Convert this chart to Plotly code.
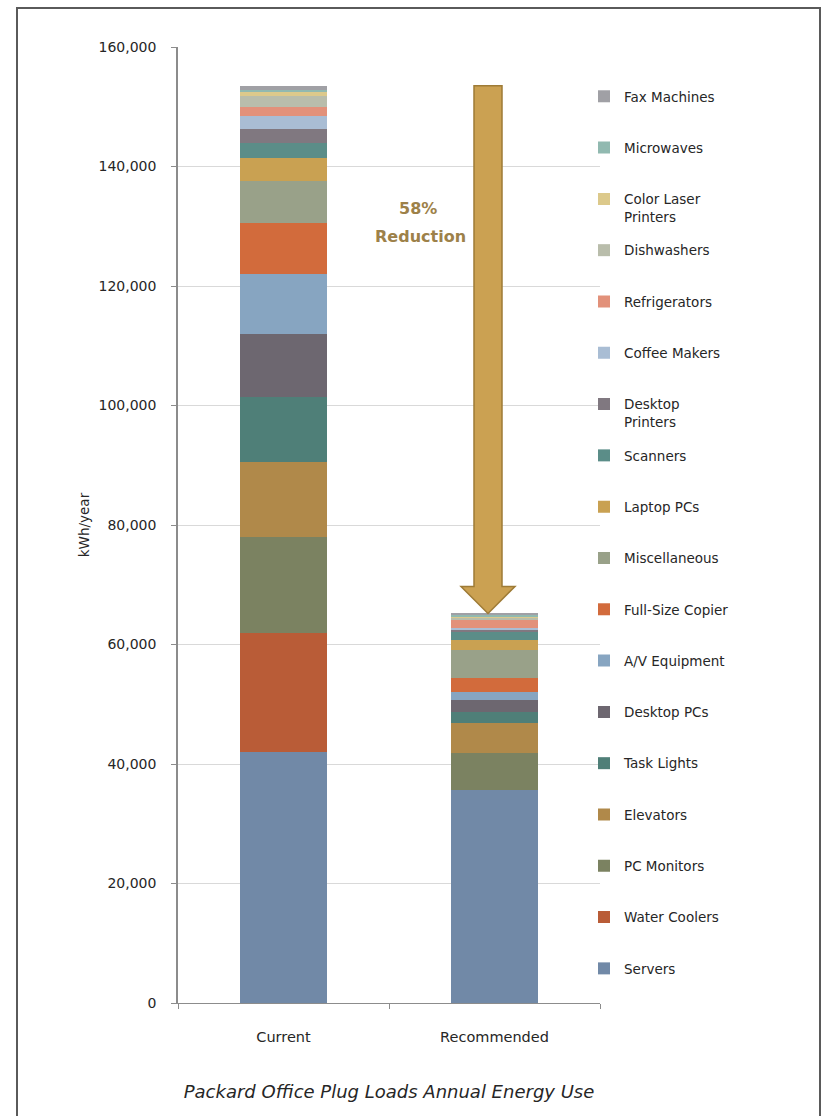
import plotly.graph_objects as go

# ---------------- data ----------------
scenarios = ["Current", "Recommended"]

# stacked bottom -> top
loads = [
    "Servers", "Water Coolers", "PC Monitors", "Elevators", "Task Lights",
    "Desktop PCs", "A/V Equipment", "Full-Size Copier", "Miscellaneous",
    "Laptop PCs", "Scanners", "Desktop Printers", "Coffee Makers",
    "Refrigerators", "Dishwashers", "Color Laser Printers", "Microwaves",
    "Fax Machines",
]
legend_labels = [
    "Servers", "Water Coolers", "PC Monitors", "Elevators", "Task Lights",
    "Desktop PCs", "A/V Equipment", "Full-Size Copier", "Miscellaneous",
    "Laptop PCs", "Scanners", "Desktop<br>Printers", "Coffee Makers",
    "Refrigerators", "Dishwashers", "Color Laser<br>Printers", "Microwaves",
    "Fax Machines",
]
current_kwh = [42000, 20000, 16000, 12500, 11000, 10500, 10000, 8500, 7000,
               4000, 2500, 2200, 2300, 1500, 1800, 600, 400, 700]
recommended_kwh = [35600, 0, 6200, 5100, 1800, 2000, 1400, 2300, 4700,
                   1700, 1400, 300, 300, 1300, 400, 200, 300, 200]
colors = [
    "#7189a7", "#b95c37", "#7b8261", "#b0894a", "#4f7f78",
    "#6d6770", "#87a5c1", "#d26b3c", "#99a189",
    "#c9a152", "#5b8d88", "#807880", "#a9bdd4",
    "#e2917a", "#b9bdab", "#dcc98b", "#91b9b0",
    "#a0a0a5",
]
y_ticks = [0, 20000, 40000, 60000, 80000, 100000, 120000, 140000, 160000]
reduction_label = "58%"

# ---------------- layout geometry (pixels) ----------------
W, H = 825, 1116
ML, MR, MT, MB = 178, 225, 47, 113
PW, PH = W - ML - MR, H - MT - MB


def px_x(p):
    return (p - ML) / PW


def px_y(p):
    return (H - MB - p) / PH


FONT = "DejaVu Sans"
TXT = "#262626"
fig = go.Figure()

n = len(loads)
for i in range(n):
    fig.add_trace(go.Bar(
        x=scenarios,
        y=[current_kwh[i], recommended_kwh[i]],
        name=legend_labels[i],
        marker=dict(color=colors[i], line=dict(width=0)),
        legend="legend" if i == n - 1 else f"legend{n - i}",
        hovertemplate=loads[i] + ": %{y:,} kWh<extra></extra>",
    ))

layout_legends = {}
for i in range(n):
    k = n - i  # 1 = top item (Fax Machines)
    key = "legend" if k == 1 else f"legend{k}"
    y_center = 97 + (k - 1) * 51.3
    layout_legends[key] = dict(
        x=px_x(584), xanchor="left",
        y=px_y(y_center - 16), yanchor="top",
        bgcolor="rgba(0,0,0,0)", borderwidth=0,
        font=dict(family=FONT, size=13.5, color=TXT),
        valign="top", itemclick=False, itemdoubleclick=False,
    )

fig.update_layout(
    width=W, height=H,
    margin=dict(l=ML, r=MR, t=MT, b=MB),
    paper_bgcolor="white", plot_bgcolor="white",
    barmode="stack", bargap=0.59, showlegend=True,
    font=dict(family=FONT, size=13, color=TXT),
    title=dict(
        text="<i>Packard Office Plug Loads Annual Energy Use</i>",
        x=0.5, xref="paper", xanchor="center",
        y=1 - 1092 / H, yref="container", yanchor="middle",
        font=dict(family=FONT, size=18, color=TXT),
    ),
    xaxis=dict(
        showline=True, linecolor="#8c8c8c", linewidth=1,
        ticks="outside", tickson="boundaries", ticklen=5, tickcolor="#8c8c8c",
        ticklabelstandoff=21,
        tickfont=dict(family=FONT, size=14.5, color=TXT),
        showgrid=False,
    ),
    yaxis=dict(
        range=[0, 160000], tickvals=y_ticks, tickformat=",",
        showline=True, linecolor="#8c8c8c", linewidth=1.5,
        ticks="outside", ticklen=5, tickcolor="#8c8c8c",
        ticklabelstandoff=12,
        showgrid=True, gridcolor="#d9d9d9", gridwidth=1,
        zeroline=False,
        tickfont=dict(family=FONT, size=14, color=TXT),
        title=dict(text="kWh/year", standoff=6,
                   font=dict(family=FONT, size=13.5, color=TXT)),
    ),
    **layout_legends,
)

# ---- reduction arrow (from current total down to recommended total) ----
cur_total = sum(current_kwh)
rec_total = sum(recommended_kwh)
ax_c = px_x(488)
shaft = 14 / PW
head = 27 / PW
head_h = 27 * 160000 / PH
path = (
    f"M {ax_c - shaft},{cur_total} L {ax_c + shaft},{cur_total} "
    f"L {ax_c + shaft},{rec_total + head_h} L {ax_c + head},{rec_total + head_h} "
    f"L {ax_c},{rec_total} L {ax_c - head},{rec_total + head_h} "
    f"L {ax_c - shaft},{rec_total + head_h} Z"
)
fig.add_shape(type="path", path=path, xref="paper", yref="y",
              fillcolor="#cba152", line=dict(color="#9e7b36", width=1.5))

fig.add_annotation(text=f"<b>{reduction_label}</b>", xref="paper", yref="paper",
                   x=px_x(418), y=px_y(197), showarrow=False,
                   font=dict(family=FONT, size=16, color="#9d8149"))
fig.add_annotation(text="<b>Reduction</b>", xref="paper", yref="paper",
                   x=px_x(420), y=px_y(225), showarrow=False,
                   font=dict(family=FONT, size=16, color="#9d8149"))

# ---- outer frame ----
fig.add_shape(type="rect", xref="paper", yref="paper",
              x0=px_x(17), x1=px_x(820), y0=px_y(1140), y1=px_y(8),
              line=dict(color="#5a5a5a", width=2), fillcolor="rgba(0,0,0,0)",
              layer="below")

fig.write_html("out.html")
